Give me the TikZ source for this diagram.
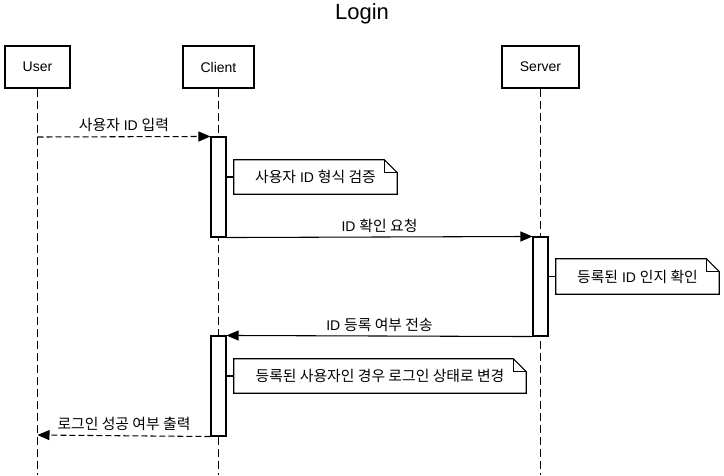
\documentclass[tikz,border=0pt]{standalone}
\usepackage{fontspec}
\setmainfont{Liberation Sans}
\newfontfamily\kr[Scale=1.06]{Noto Sans CJK KR}
\usetikzlibrary{arrows.meta,calc}
\begin{document}
\begin{tikzpicture}[x=0.75pt,y=-0.75pt,
  font=\fontsize{10.5}{12}\selectfont,
  actor/.style={draw, line width=1.5pt, fill=white, minimum height=31.5pt, inner sep=0pt},
  lifeline/.style={line width=0.8pt, dash pattern=on 6pt off 3pt},
  actbox/.style={draw, line width=0.8pt, fill=white, minimum width=11.25pt, inner sep=0pt},
  notebox/.style={minimum height=25.5pt, inner sep=0pt},
  notefold/.style={line width=0.8pt, fill=white},
  msg/.style={line width=0.8pt, -{Triangle[length=9pt,width=7.5pt]}},
  msgdash/.style={msg, dash pattern=on 4.5pt off 2.25pt},
  lbl/.style={anchor=base, inner sep=0pt},
  link/.style={line width=0.8pt}]
\useasboundingbox (0,0) rectangle (724,475);

\node[font=\fontsize{16.5}{18}\selectfont] (title) at (362,14) {Login};

\node[actor, minimum width=48.75pt] (user) at (37.5,67) {User};
\node[actor, minimum width=53.25pt] (client) at (218.5,67) {Client};
\node[actor, minimum width=57.75pt] (server) at (540.5,67) {Server};

\coordinate (userend) at (37.5,475);
\coordinate (clientend) at (218.5,475);
\coordinate (serverend) at (540.5,475);
\draw[lifeline] (user.south) -- (userend);
\draw[lifeline] (client.south) -- (clientend);
\draw[lifeline] (server.south) -- (serverend);

\node[actbox, minimum height=75pt] (a1) at (218.5,187) {};
\node[actbox, minimum height=74.25pt] (a2) at (540.5,286.5) {};
\node[actbox, minimum height=75pt] (a3) at (218.5,386) {};

% notes
\newcommand{\drawnote}[1]{%
  \draw[notefold] (#1.north west) -- ([xshift=-9.75pt]#1.north east) -- ([yshift=-9.75pt]#1.north east) -- (#1.south east) -- (#1.south west) -- cycle;
  \draw[line width=0.8pt] ([xshift=-9.75pt]#1.north east) -- ([xshift=-9.75pt,yshift=-9.75pt]#1.north east) -- ([yshift=-9.75pt]#1.north east);}

\node[notebox, minimum width=122.25pt] (n1) at (315.5,177) {};
\drawnote{n1}
\node[notebox] at (n1) {{\kr 사용자} ID {\kr 형식 검증}};
\node[notebox, minimum width=122.25pt, minimum height=26.25pt] (n2) at (637.5,276.5) {};
\drawnote{n2}
\node[notebox] at (n2) {{\kr 등록된} ID {\kr 인지 확인}};
\node[notebox, minimum width=219pt] (n3) at (380,376) {};
\drawnote{n3}
\node[notebox] at (n3) {\kr 등록된 사용자인 경우 로그인 상태로 변경};

\draw[link] (a1.east |- n1.west) -- (n1.west);
\draw[link] (a2.east |- n2.west) -- (n2.west);
\draw[link] (a3.east |- n3.west) -- (n3.west);

% messages
\coordinate (m1s) at (37.5,137);
\draw[msgdash] (m1s) -- (a1.north west);
\node[lbl] (l1) at ($(m1s)!0.5!(a1.north west)+(0,-6)$) {{\kr 사용자} ID {\kr 입력}};

\draw[msg] (a1.south east) -- (a2.north west);
\node[lbl] (l2) at ($(a1.south east)!0.5!(a2.north west)+(0,-6)$) {ID {\kr 확인 요청}};

\draw[msg] (a2.south west) -- (a3.north east);
\node[lbl] (l3) at ($(a2.south west)!0.5!(a3.north east)+(0,-6)$) {ID {\kr 등록 여부 전송}};

\coordinate (m4e) at (37.5,435);
\draw[msgdash] (a3.south west) -- (m4e);
\node[lbl] (l4) at ($(a3.south west)!0.5!(m4e)+(0,-6)$) {\kr 로그인 성공 여부 출력};
\end{tikzpicture}
\end{document}
